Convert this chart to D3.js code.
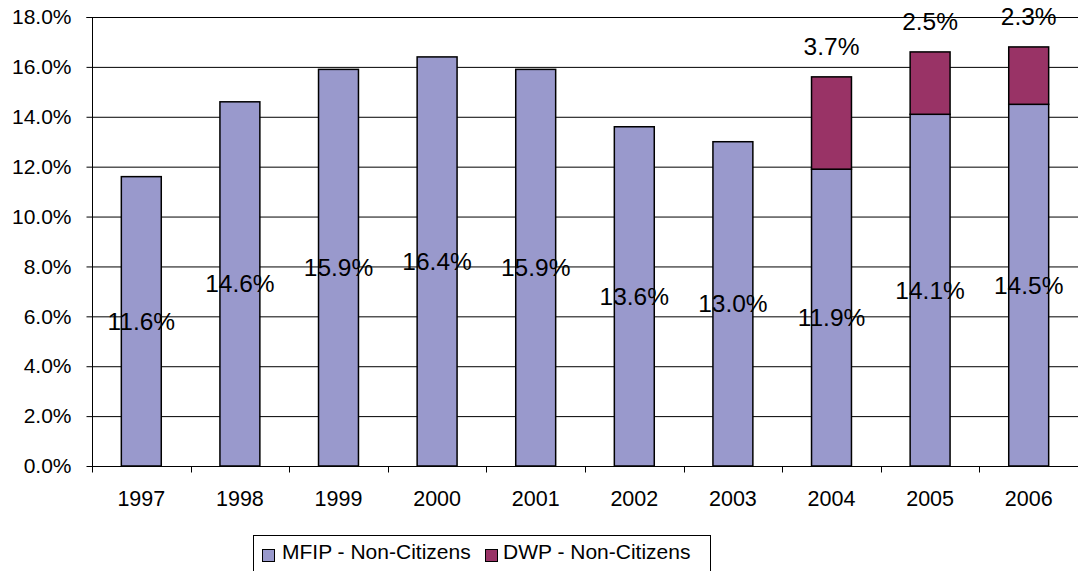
<!DOCTYPE html>
<html><head><meta charset="utf-8">
<script src="https://cdn.jsdelivr.net/npm/d3@7"></script>
<style>body{margin:0;background:#fff}svg{display:block;font-family:"Liberation Sans",Arial,sans-serif}</style>
</head><body>
<svg id="c" width="1078" height="571"></svg>
<script>
const years = ["1997","1998","1999","2000","2001","2002","2003","2004","2005","2006"];
const mfip = [11.6,14.6,15.9,16.4,15.9,13.6,13.0,11.9,14.1,14.5];
const dwp  = [0,0,0,0,0,0,0,3.7,2.5,2.3];
const yTicks = [0,2,4,6,8,10,12,14,16,18];
const seriesNames = ["MFIP - Non-Citizens","DWP - Non-Citizens"];
const colors = ["#9999CC","#993366"];

const svg = d3.select("#c");
const L=92, R=1078, T=17, B=466;
const x = d3.scaleBand().domain(years).range([L,R]).paddingInner(0.595).paddingOuter(0.2975);
const y = d3.scaleLinear().domain([0,18]).range([B,T]);

// gridlines
svg.append("g").selectAll("line").data(yTicks.filter(d=>d>0)).join("line")
  .attr("x1",L).attr("x2",R).attr("y1",d=>y(d)+0.5).attr("y2",d=>y(d)+0.5)
  .attr("stroke","#000").attr("stroke-width",1);

// y axis
const ya = svg.append("g").attr("transform",`translate(${L+0.5},0)`)
  .call(d3.axisLeft(y).tickValues(yTicks).tickFormat(d=>d.toFixed(1)+"%").tickSize(6).tickPadding(15));
ya.select(".domain").attr("d",`M-6,${T+0.5}H0V${B+0.5}`).attr("stroke","#000");
ya.selectAll(".tick line").attr("stroke","#000");
ya.selectAll(".tick text").attr("font-size","21px").attr("fill","#000").attr("font-family","Liberation Sans, Arial, sans-serif");

// x axis
const xa = svg.append("g").attr("transform",`translate(0,${B+0.5})`);
xa.append("line").attr("x1",L).attr("x2",R).attr("stroke","#000");
const bw = x.step();
xa.selectAll("line.t").data(d3.range(years.length+1)).join("line").attr("class","t")
  .attr("x1",i=>Math.round(L+i*bw)+0.5).attr("x2",i=>Math.round(L+i*bw)+0.5).attr("y1",0).attr("y2",6).attr("stroke","#000");
xa.selectAll("text").data(years).join("text")
  .attr("x",d=>x(d)+x.bandwidth()/2).attr("y",39).attr("text-anchor","middle")
  .attr("font-size","21.5px").text(d=>d);

// bars
const g = svg.append("g");
years.forEach((yr,i)=>{
  g.append("rect").attr("x",x(yr)).attr("width",x.bandwidth())
   .attr("y",y(mfip[i])).attr("height",y(0)-y(mfip[i]))
   .attr("fill",colors[0]).attr("stroke","#000").attr("stroke-width",1.5);
  if(dwp[i]>0){
    g.append("rect").attr("x",x(yr)).attr("width",x.bandwidth())
     .attr("y",y(mfip[i]+dwp[i])).attr("height",y(mfip[i])-y(mfip[i]+dwp[i]))
     .attr("fill",colors[1]).attr("stroke","#000").attr("stroke-width",1.5);
  }
});

// labels
const lab = svg.append("g").attr("font-size","24.5px").attr("text-anchor","middle").attr("fill","#000");
years.forEach((yr,i)=>{
  const cx = x(yr)+x.bandwidth()/2;
  lab.append("text").attr("x",cx).attr("y",y(mfip[i]/2)).attr("dy","0.35em").text(mfip[i].toFixed(1)+"%");
  if(dwp[i]>0){
    lab.append("text").attr("x",cx).attr("y",y(mfip[i]+dwp[i])-22).text(dwp[i].toFixed(1)+"%");
  }
});

// legend
const lg = svg.append("g");
lg.append("rect").attr("x",253.5).attr("y",535.5).attr("width",457).attr("height",50).attr("fill","#fff").attr("stroke","#000");
const items = [{x:262,tx:282},{x:485,tx:503}];
items.forEach((it,i)=>{
  lg.append("rect").attr("x",it.x+0.5).attr("y",549.5).attr("width",12).attr("height",12).attr("fill",colors[i]).attr("stroke","#000");
  lg.append("text").attr("x",it.tx).attr("y",559).attr("font-size","21px").text(seriesNames[i]);
});
</script>
</body></html>
